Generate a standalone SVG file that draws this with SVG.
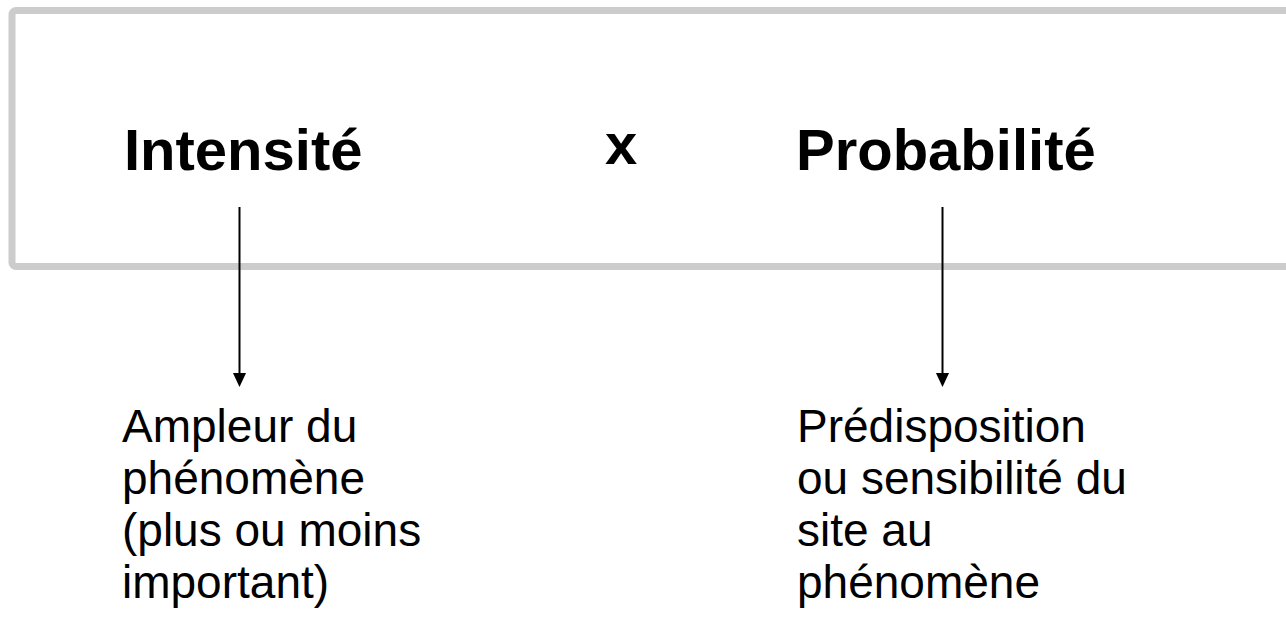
<svg xmlns="http://www.w3.org/2000/svg" width="1286" height="627" viewBox="0 0 1286 627">
<style>
.title{font-family:"Liberation Sans",Arial,sans-serif;font-weight:bold;font-size:58px;fill:#000}
.body{font-family:"Liberation Sans",Arial,sans-serif;font-size:46px;fill:#000}
.conn{stroke:#000;stroke-width:2;fill:none;marker-end:url(#ah)}
</style>
<defs>
<marker id="ah" markerWidth="14" markerHeight="15" refX="0" refY="7" orient="auto" markerUnits="userSpaceOnUse" viewBox="0 0 15 14">
<polygon points="0,0 15,7 0,14" fill="#000"/>
</marker>
</defs>
<rect width="1286" height="627" fill="#fff"/>
<g id="frame">
<rect x="12" y="10.5" width="1300" height="256" rx="4" fill="none" stroke="#cccccc" stroke-width="7"/>
</g>
<g id="intensite">
<text class="title" x="124" y="170">Intensité</text>
</g>
<g id="times">
<text class="title" x="605" y="164" font-size="56">x</text>
</g>
<g id="probabilite">
<text class="title" x="796" y="170">Probabilité</text>
</g>
<g id="connectors">
<line class="conn" x1="239.5" y1="207" x2="239.5" y2="373"/>
<line class="conn" x1="942.5" y1="207" x2="942.5" y2="373"/>
</g>
<g id="ampleur">
<text class="body" x="122"><tspan x="122" y="442">Ampleur du</tspan><tspan x="122" y="494">phénomène</tspan><tspan x="122" y="546">(plus ou moins</tspan><tspan x="122" y="598">important)</tspan></text>
</g>
<g id="predisposition">
<text class="body" x="797"><tspan x="797" y="442">Prédisposition</tspan><tspan x="797" y="494">ou sensibilité du</tspan><tspan x="797" y="546">site au</tspan><tspan x="797" y="598">phénomène</tspan></text>
</g>
</svg>
